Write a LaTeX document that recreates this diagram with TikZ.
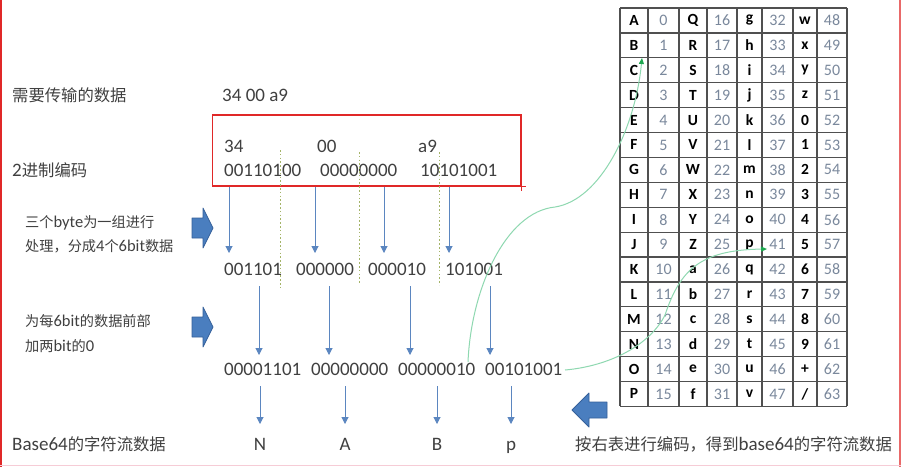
\documentclass[tikz,border=0pt]{standalone}
\usepackage{fontspec}
\setmainfont{Carlito}
\newfontfamily\cjkf[Scale=0.86]{Noto Sans CJK SC}
\usetikzlibrary{arrows.meta}
\definecolor{txt}{HTML}{404040}
\definecolor{numc}{HTML}{7A889C}
\definecolor{gridc}{HTML}{505050}
\definecolor{barc}{HTML}{5B86C0}
\definecolor{blkfill}{HTML}{4A7EBF}
\definecolor{blkdraw}{HTML}{35609A}
\definecolor{redc}{HTML}{E02828}
\definecolor{dotc}{HTML}{A4B468}
\definecolor{greenl}{HTML}{8ED8B0}
\definecolor{greend}{HTML}{1FA850}
\definecolor{pinkc}{HTML}{F6CCD6}
\newcommand\zh[1]{{\cjkf #1}}
\newcommand\myslash{/}
\tikzset{
  big/.style={inner sep=0pt, anchor=base west, text=txt, font=\fontsize{19}{22}\selectfont},
  bigc/.style={inner sep=0pt, anchor=base, text=txt, font=\fontsize{19}{22}\selectfont},
  small/.style={inner sep=0pt, anchor=base west, text=txt, font=\fontsize{16.5}{19}\selectfont},
  barrow/.style={draw=barc, line width=1pt, -{Triangle[width=7pt,length=7pt]}},
  blk/.style={fill=blkfill, draw=blkdraw, line width=0.8pt, line join=round},
  dotl/.style={draw=dotc, line width=1pt, dash pattern=on 1.6pt off 2.2pt},
  gcurve/.style={draw=greenl, line width=1pt, -{Triangle[width=5pt,length=6pt,color=greend]}},
  lett/.style={inner sep=0pt, text=black, font=\fontsize{15.5}{18}\selectfont\bfseries},
  numb/.style={inner sep=0pt, text=numc, font=\fontsize{16}{18}\selectfont},
  gridl/.style={draw=gridc, line width=1.2pt},
}
\begin{document}
\begin{tikzpicture}[x=1pt,y=-1pt]
\useasboundingbox (0,0) rectangle (901,467);
\fill[white] (0,0) rectangle (901,467);
% frame edges
\draw[redc, line width=1.5pt] (0.8,0) -- (0.8,467);
\draw[redc!70, line width=1.2pt] (900,0) -- (900,467);
\draw[pinkc, line width=1.5pt] (0,465.5) -- (901,465.5);

% left labels
\node[big] (l1) at (12,101) {\zh{需要传输的数据}};
\node[big] (l2) at (12,176) {2\zh{进制编码}};
\node[small] (l3a) at (25,227) {\zh{三个}byte\zh{为一组进行}};
\node[small] (l3b) at (25,251) {\zh{处理，分成}4\zh{个}6bit\zh{数据}};
\node[small] (l4a) at (25,326.5) {\zh{为每}6bit\zh{的数据前部}};
\node[small] (l4b) at (25,351) {\zh{加两}bit\zh{的}0};
\node[big] (l5) at (12,450) {Base64\zh{的字符流数据}};
\node[big] (l6) at (575,450) {\zh{按右表进行编码，得到}base64\zh{的字符流数据}};

% data
\node[big] (d0) at (222,101) {34 00 a9};
\node[big] (h1) at (224,152) {34};
\node[big] (h2) at (317,152) {00};
\node[big] (h3) at (418,152) {a9};
\node[big] (b1) at (224,176) {00110100};
\node[big] (b2) at (320,176) {00000000};
\node[big] (b3) at (420,176) {10101001};
\node[big] (s1) at (224,275.5) {001101};
\node[big] (s2) at (296,275.5) {000000};
\node[big] (s3) at (368,275.5) {000010};
\node[big] (s4) at (445,275.5) {101001};
\node[big] (e1) at (224,375) {00001101};
\node[big] (e2) at (311,375) {00000000};
\node[big] (e3) at (398,375) {00000010};
\node[big] (e4) at (485,375) {00101001};
\node[bigc] (c1) at (260,450) {N};
\node[bigc] (c2) at (345,450) {A};
\node[bigc] (c3) at (437,450) {B};
\node[bigc] (c4) at (511,450) {p};

% red box
\draw[redc, line width=1.3pt] (212.7,115) rectangle (521,186);
\draw[redc, line width=1pt] (516.5,186) -- (525.5,186) (521,181.5) -- (521,190.5);

% dotted separators
\draw[dotl] (280,150) -- (280,287);
\draw[dotl] (359,152) -- (359,283);
\draw[dotl] (439,152) -- (439,285);

% thin blue arrows
\foreach \x [count=\i] in {229,315,384,449} {
  \coordinate (pa\i) at (\x,187); \coordinate (qa\i) at (\x,253);
  \draw[barrow] (pa\i) -- (qa\i);
}
\foreach \x [count=\i] in {259,329,410,490} {
  \coordinate (pb\i) at (\x,286); \coordinate (qb\i) at (\x,355);
  \draw[barrow] (pb\i) -- (qb\i);
}
\foreach \x [count=\i] in {260,345,437,511} {
  \coordinate (pc\i) at (\x,386); \coordinate (qc\i) at (\x,424);
  \draw[barrow] (pc\i) -- (qc\i);
}

% block arrows
\draw[blk] (192,218) -- (203,218) -- (203,208) -- (213,228) -- (203,248) -- (203,238) -- (192,238) -- cycle;
\draw[blk] (192,317) -- (203,317) -- (203,307) -- (213,327) -- (203,347) -- (203,337) -- (192,337) -- cycle;
\draw[blk] (572,410) -- (589,393) -- (589,402) -- (607,402) -- (607,418) -- (589,418) -- (589,427) -- cycle;

% table
\foreach \la/\lb/\lc/\ld [count=\r from 0] in {A/Q/g/w,B/R/h/x,C/S/i/y,D/T/j/z,E/U/k/0,F/V/l/1,G/W/m/2,H/X/n/3,I/Y/o/4,J/Z/p/5,K/a/q/6,L/b/r/7,M/c/s/8,N/d/t/9,O/e/u/+,P/f/v/\myslash} {
  \pgfmathsetmacro{\yc}{8+24.9*(\r+0.5)}
  \pgfmathtruncatemacro{\na}{\r}
  \pgfmathtruncatemacro{\nb}{\r+16}
  \pgfmathtruncatemacro{\nc}{\r+32}
  \pgfmathtruncatemacro{\nd}{\r+48}
  \node[lett] (ta\r) at (634,\yc) {\la};
  \node[numb] (na\r) at (663.5,\yc) {\na};
  \node[lett] (tb\r) at (693,\yc) {\lb};
  \node[numb] (nb\r) at (722,\yc) {\nb};
  \node[lett] (tc\r) at (749.5,\yc) {\lc};
  \node[numb] (nc\r) at (777.5,\yc) {\nc};
  \node[lett] (td\r) at (805,\yc) {\ld};
  \node[numb] (nd\r) at (832,\yc) {\nd};
}
\foreach \x in {620,648,679,707,737,762,793,817,847} {
  \draw[gridl] (\x,8) -- (\x,406.4);
}
\foreach \r in {0,...,16} {
  \draw[gridl] (620,8+24.9*\r) -- (847,8+24.9*\r);
}

% green curves
\coordinate (g1s) at (468,362);
\coordinate (g1m) at (555,207);
\coordinate (g1e) at (642,58);
\draw[gcurve] (g1s) .. controls (471,290) and (505,212) .. (g1m)
  .. controls (600,200) and (635,130) .. (g1e);
\coordinate (g2s) at (565,370);
\coordinate (g2m) at (665,315);
\coordinate (g2e) at (767,249);
\draw[gcurve] (g2s) .. controls (610,366) and (650,345) .. (g2m)
  .. controls (680,270) and (700,250) .. (g2e);
\end{tikzpicture}
\end{document}
